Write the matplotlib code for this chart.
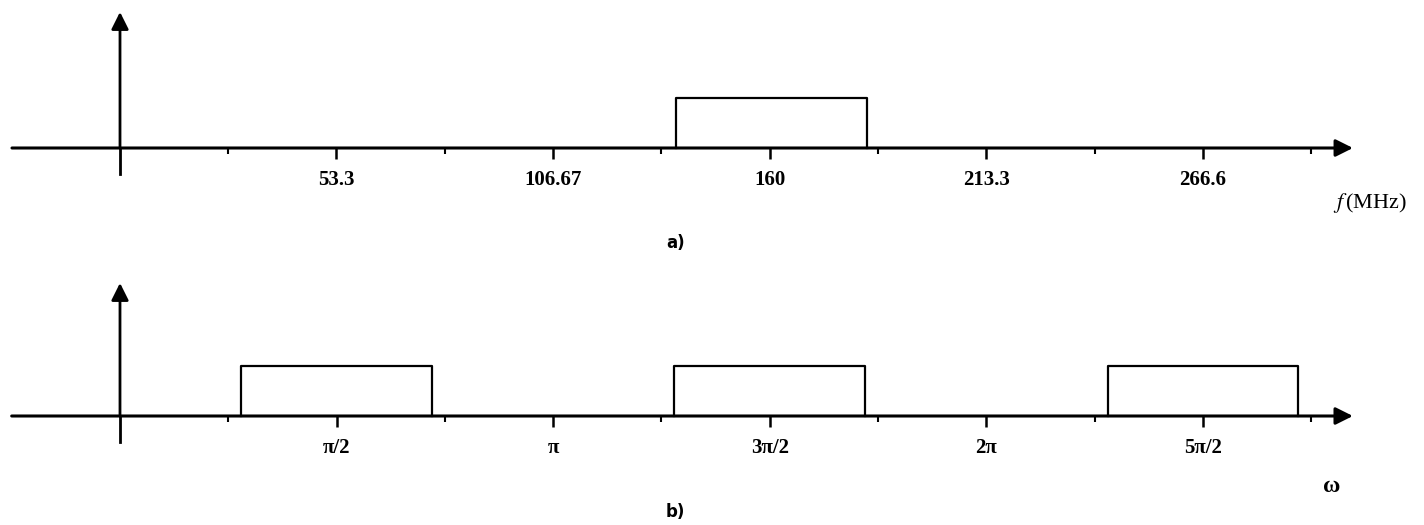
import numpy as np
import matplotlib
matplotlib.use("Agg")
import matplotlib.pyplot as plt

plt.rcParams['font.family'] = ['Liberation Serif', 'DejaVu Serif']
plt.rcParams['mathtext.fontset'] = 'stix'

# --- data -------------------------------------------------------------
# a) analog spectrum, frequency in MHz
f_major = [53.3, 106.67, 160, 213.3, 266.6]
f_major_labels = ['53.3', '106.67', '160', '213.3', '266.6']
f_minor = [26.67, 80, 133.33, 186.67, 240, 293.33]
f_band = [137, 184]          # band edges (MHz)
f_band_height = 1.0

# b) sampled spectrum, omega in units of pi
w_major = [0.5, 1.0, 1.5, 2.0, 2.5]
w_major_labels = ['π/2', 'π', '3π/2', '2π', '5π/2']
w_minor = [0.25, 0.75, 1.25, 1.75, 2.25, 2.75]
w_bands = [[0.28, 0.72], [1.28, 1.72], [2.28, 2.72]]
w_band_height = 1.0

fig = plt.figure(figsize=(14.24, 5.25), dpi=100)

# axes placed so one tick step is ~108 px and axis origin sits at x=120 px
ax1 = fig.add_axes([0, 263 / 525, 1, 262 / 525])
ax2 = fig.add_axes([0, 0, 1, 263 / 525])
ax1.set_xlim(-29.55, 321.1)
ax1.set_ylim(-2.28, 2.96)
ax2.set_xlim(-0.277, 3.0102)
ax2.set_ylim(-2.18, 3.08)


def draw_frame(ax, x_left, x_tip, y_top, major, labels, minor):
    # horizontal axis with arrow head
    ax.annotate('', xy=(x_tip, 0), xytext=(x_left, 0),
                arrowprops=dict(arrowstyle='-|>', lw=2.2, color='k',
                                mutation_scale=26, shrinkA=0, shrinkB=0))
    # vertical axis with arrow head
    ax.plot([0, 0], [-0.52, 0], color='k', lw=2.0)
    ax.annotate('', xy=(0, y_top), xytext=(0, 0),
                arrowprops=dict(arrowstyle='-|>', lw=2.0, color='k',
                                mutation_scale=26, shrinkA=0, shrinkB=0))
    ax.vlines(major, -0.22, 0, color='k', lw=1.8)
    ax.vlines(minor, -0.12, 0, color='k', lw=1.5)
    for x, lab in zip(major, labels):
        ax.text(x, -0.64, lab, ha='center', va='center',
                fontsize=15, fontweight='bold')
    ax.axis('off')


# a)
draw_frame(ax1, -26.6, 303.6, 2.72, f_major, f_major_labels, f_minor)
l, r = f_band
ax1.plot([l, l, r, r], [0, f_band_height, f_band_height, 0], color='k', lw=1.6)
ax1.text(307.8, -1.1, r'$f\,$(MHz)', ha='center', va='center', fontsize=16)
ax1.text(136.9, -1.9, 'a)', ha='center', va='center', fontsize=12,
         fontweight='bold', family='Liberation Sans Narrow')

# b)
draw_frame(ax2, -0.25, 2.846, 2.66, w_major, w_major_labels, w_minor)
for l, r in w_bands:
    ax2.plot([l, l, r, r], [0, w_band_height, w_band_height, 0], color='k', lw=1.6)
ax2.text(2.798, -1.42, 'ω', ha='center', va='center', fontsize=17,
         fontweight='bold')
ax2.text(1.281, -1.92, 'b)', ha='center', va='center', fontsize=12,
         fontweight='bold', family='Liberation Sans Narrow')

fig.savefig('out.png', dpi=100, facecolor='white')
